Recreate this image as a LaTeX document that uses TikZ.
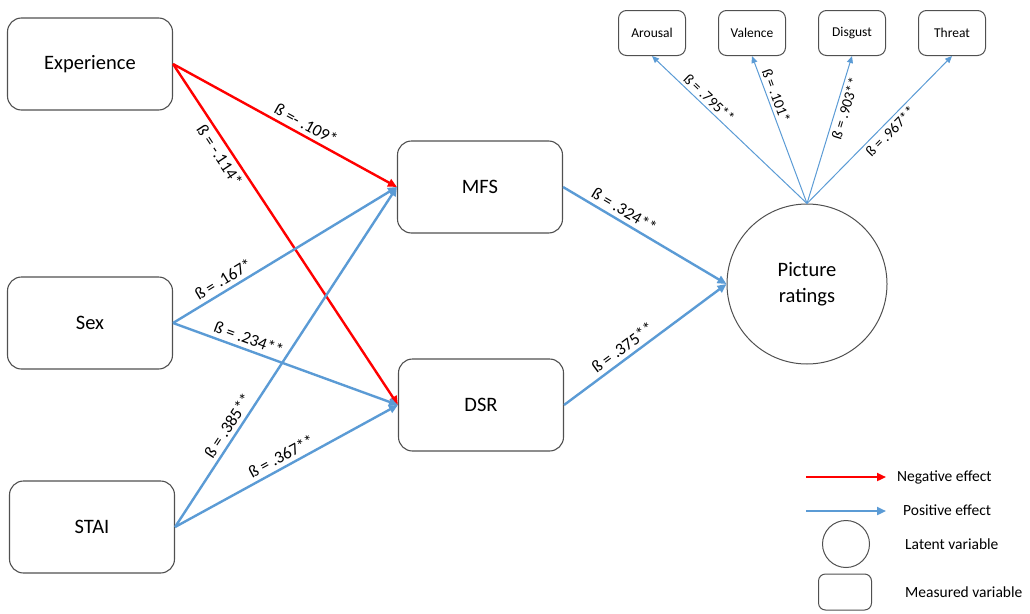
\documentclass[tikz,border=0pt]{standalone}
\usepackage{fontspec}
\setmainfont{Carlito}
\usetikzlibrary{arrows.meta}
\definecolor{posblue}{RGB}{91,155,213}
\definecolor{negred}{RGB}{255,0,0}
\definecolor{boxgray}{RGB}{80,80,80}
\tikzset{
  mainbox/.style={draw=boxgray, line width=1.1pt, rounded corners=14pt, minimum width=165pt, minimum height=92pt, inner sep=0pt, font=\fontsize{20.5}{24}\selectfont},
  indbox/.style={draw=boxgray, line width=1pt, rounded corners=8pt, minimum width=67pt, minimum height=45pt, inner sep=0pt, font=\fontsize{13.5}{16}\selectfont},
  latent/.style={draw=boxgray, line width=1pt, circle, minimum size=160pt, inner sep=0pt, align=center, font=\fontsize{20.5}{26}\selectfont},
  negarrow/.style={draw=negred, line width=2.4pt, -{Triangle[length=9pt,width=8pt]}},
  posarrow/.style={draw=posblue, line width=2.4pt, -{Triangle[length=9pt,width=8pt]}},
  indarrow/.style={draw=posblue, line width=1pt, -{Triangle[length=7pt,width=6pt]}},
  blab/.style={sloped, font=\fontsize{17}{19}\selectfont, inner sep=4pt},
  ilab/.style={sloped, font=\fontsize{15}{17}\selectfont, inner sep=3pt},
  legtext/.style={anchor=west, font=\fontsize{15.5}{18}\selectfont, inner sep=0pt}
}
\begin{document}
\begin{tikzpicture}[x=1pt,y=-1pt]
\useasboundingbox (0,0) rectangle (1030,613);
% main boxes
\node[mainbox] (exp) at (90,64) {Experience};
\node[mainbox] (sex) at (90,323) {Sex};
\node[mainbox] (stai) at (92,527) {STAI};
\node[mainbox] (mfs) at (480,187) {MFS};
\node[mainbox] (dsr) at (481,405) {DSR};
\node[latent] (pr) at (807,284) {Picture\\ratings};
% indicators
\node[indbox] (aro) at (652,33) {Arousal};
\node[indbox] (val) at (752,33) {Valence};
\node[indbox] (dis) at (852,33) {Disgust};
\node[indbox] (thr) at (952,33) {Threat};
% paths
\draw[negarrow] (exp.east) -- node[blab, above, pos=0.57] {ß =- .109*} (mfs.west);
\draw[negarrow] (exp.east) -- node[blab, below, pos=0.25] {ß = -.114*} (dsr.west);
\draw[posarrow] (sex.east) -- node[blab, above, pos=0.25] {ß = .167*} (mfs.west);
\draw[posarrow] (sex.east) -- node[blab, above, pos=0.32] {ß = .234**} (dsr.west);
\draw[posarrow] (stai.east) -- node[blab, above, pos=0.28] {ß = .385**} (mfs.west);
\draw[posarrow] (stai.east) -- node[blab, above, pos=0.5] {ß = .367**} (dsr.west);
\draw[posarrow] (mfs.east) -- node[blab, above, pos=0.34] {ß = .324**} (pr.west);
\draw[posarrow] (dsr.east) -- node[blab, above, pos=0.40] {ß = .375**} (pr.west);
\draw[indarrow] (pr.north) -- node[ilab, above, pos=0.67] {ß = .795**} (aro.south);
\draw[indarrow] (pr.north) -- node[ilab, above, pos=0.71] {ß = .101*} (val.south);
\draw[indarrow] (pr.north) -- node[ilab, below, pos=0.66] {ß = .903**} (dis.south);
\draw[indarrow] (pr.north) -- node[ilab, below, pos=0.53] {ß = .967**} (thr.south);
% legend
\coordinate (l1a) at (806,477); \coordinate (l1b) at (886,477);
\coordinate (l2a) at (806,511); \coordinate (l2b) at (886,511);
\draw[negarrow, line width=2.2pt] (l1a) -- (l1b);
\draw[posarrow, line width=2.2pt] (l2a) -- (l2b);
\node[legtext] (t1) at (897,477) {Negative effect};
\node[legtext] (t2) at (903,510) {Positive effect};
\node[draw=boxgray, line width=1pt, circle, minimum size=47pt, inner sep=0pt] (lc) at (846,544) {};
\node[legtext] (t3) at (905,544) {Latent variable};
\node[draw=boxgray, line width=1pt, rounded corners=7pt, minimum width=53pt, minimum height=36pt, inner sep=0pt] (lr) at (845,592) {};
\node[legtext] (t4) at (905,592) {Measured variable};
\end{tikzpicture}
\end{document}
